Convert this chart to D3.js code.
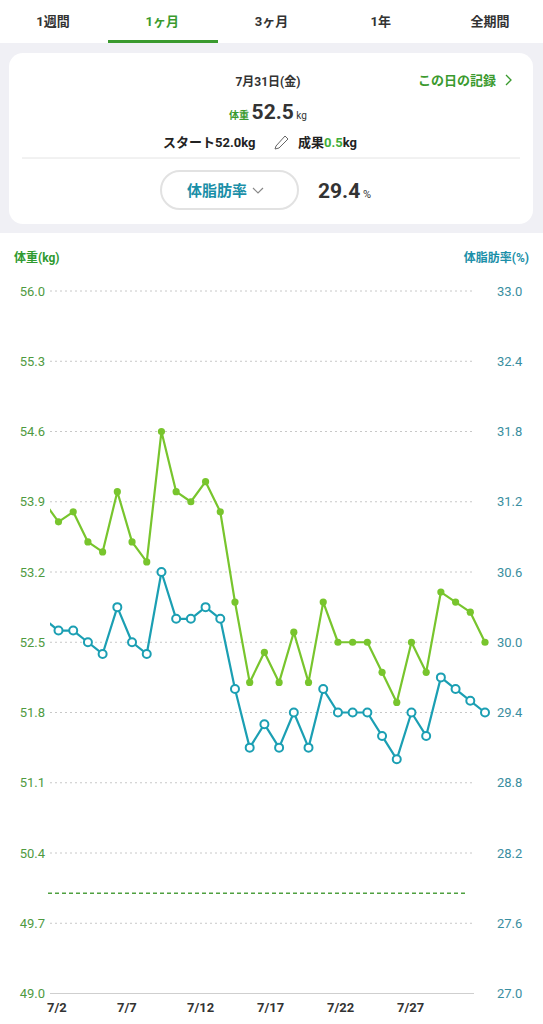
<!DOCTYPE html>
<html>
<head>
<meta charset="utf-8">
<script src="https://cdn.jsdelivr.net/npm/d3@7"></script>
<style>
  body { margin: 0; background: #fff; font-family: Roboto, "Noto Sans CJK JP", sans-serif; }
  svg { display: block; }
</style>
</head>
<body>
<svg id="chart" width="543" height="1024"></svg>
<script>
// values, July 1..31
const days = d3.range(1, 32)
const weight = [53.9, 53.7, 53.8, 53.5, 53.4, 54.0, 53.5, 53.3, 54.6, 54.0, 53.9, 54.1, 53.8, 52.9, 52.1, 52.4,
                52.1, 52.6, 52.1, 52.9, 52.5, 52.5, 52.5, 52.2, 51.9, 52.5, 52.2, 53.0, 52.9, 52.8, 52.5]
const bodyFat = [30.2, 30.1, 30.1, 30.0, 29.9, 30.3, 30.0, 29.9, 30.6, 30.2, 30.2, 30.3, 30.2, 29.6, 29.1, 29.3,
                 29.1, 29.4, 29.1, 29.6, 29.4, 29.4, 29.4, 29.2, 29.0, 29.4, 29.2, 29.7, 29.6, 29.5, 29.4]
const weightTicks = [56.0, 55.3, 54.6, 53.9, 53.2, 52.5, 51.8, 51.1, 50.4, 49.7, 49.0]
const fatTicks = [33.0, 32.4, 31.8, 31.2, 30.6, 30.0, 29.4, 28.8, 28.2, 27.6, 27.0]
const dayTicks = [2, 7, 12, 17, 22, 27]
const goalWeight = 50.0
const tabs = ['1週間', '1ヶ月', '3ヶ月', '1年', '全期間']

const svg = d3.select('#chart')
const green = '#78c52d', teal = '#1b9fb3'

// ---- top tabs
const tabX = d3.scalePoint().domain(tabs).range([53, 490])
svg.selectAll('.tab').data(tabs).join('text')
    .attr('x', d => tabX(d)).attr('y', 26)
    .attr('text-anchor', 'middle')
    .attr('font-size', 13).attr('font-weight', 'bold')
    .attr('fill', d => d == '1ヶ月' ? '#3a9a2e' : '#333')
    .text(d => d)
svg.append('rect').attr('x', 108).attr('y', 40).attr('width', 110).attr('height', 3).attr('fill', '#3a9a2e')

// ---- summary card
svg.append('rect').attr('x', 0).attr('y', 43).attr('width', 543).attr('height', 190).attr('fill', '#f0f0f5')
svg.append('rect').attr('x', 9).attr('y', 53).attr('width', 524).attr('height', 171).attr('rx', 14).attr('fill', '#fff')

svg.append('text').attr('x', 268).attr('y', 86).attr('text-anchor', 'middle')
    .attr('font-size', 12).attr('font-weight', 'bold').attr('fill', '#333').text('7月31日(金)')
svg.append('text').attr('x', 496).attr('y', 85).attr('text-anchor', 'end')
    .attr('font-size', 13).attr('font-weight', 'bold').attr('fill', '#3a9a2e').text('この日の記録')
svg.append('path').attr('d', 'M506,75 L511,80 L506,85').attr('fill', 'none')
    .attr('stroke', '#3a9a2e').attr('stroke-width', 1.3)

const wt = svg.append('text').attr('x', 268).attr('y', 119).attr('text-anchor', 'middle').attr('fill', '#333')
wt.append('tspan').attr('font-size', 10).attr('font-weight', 'bold').attr('fill', '#3a9a2e').text('体重 ')
wt.append('tspan').attr('font-size', 21).attr('font-weight', 'bold').text(weight[30].toFixed(1))
wt.append('tspan').attr('font-size', 10).text(' kg')

const st = svg.append('text').attr('y', 147).attr('font-size', 13).attr('font-weight', 'bold').attr('fill', '#222')
st.append('tspan').attr('x', 163).text('スタート52.0kg')
svg.append('path').attr('d', 'M276,146 L285,136 L288,139 L279,148 L275,149 Z')
    .attr('fill', 'none').attr('stroke', '#666').attr('stroke-width', 1)
const res = svg.append('text').attr('x', 298).attr('y', 147).attr('font-size', 13).attr('font-weight', 'bold').attr('fill', '#222')
res.append('tspan').text('成果')
res.append('tspan').attr('fill', '#3fae3a').text('0.5')
res.append('tspan').text('kg')

svg.append('line').attr('x1', 22).attr('x2', 520).attr('y1', 158).attr('y2', 158).attr('stroke', '#e4e4e4')
svg.append('rect').attr('x', 161).attr('y', 171).attr('width', 137).attr('height', 38).attr('rx', 19)
    .attr('fill', '#fff').attr('stroke', '#e2e2e2').attr('stroke-width', 2)
svg.append('text').attr('x', 187).attr('y', 196).attr('font-size', 15).attr('font-weight', 'bold')
    .attr('fill', '#1b8fa8').text('体脂肪率')
svg.append('path').attr('d', 'M253,188 L258,193 L263,188').attr('fill', 'none').attr('stroke', '#888').attr('stroke-width', 1.2)
const bf = svg.append('text').attr('x', 318).attr('y', 198).attr('fill', '#333')
bf.append('tspan').attr('font-size', 21).attr('font-weight', 'bold').text(bodyFat[30].toFixed(1))
bf.append('tspan').attr('font-size', 11).text(' %')

// ---- chart
const yW = d3.scaleLinear().domain([49.0, 56.0]).range([993.5, 291])
const yF = d3.scaleLinear().domain([27.0, 33.0]).range([993.5, 291])
const x = d3.scaleLinear().domain([2, 31]).range([58.5, 485])
const xLabel = d3.scaleLinear().domain([2, 27]).range([47, 397])

svg.append('text').attr('x', 14).attr('y', 262).attr('font-size', 12).attr('font-weight', 'bold')
    .attr('fill', '#2f9a2f').text('体重(kg)')
svg.append('text').attr('x', 529).attr('y', 262).attr('text-anchor', 'end').attr('font-size', 12)
    .attr('font-weight', 'bold').attr('fill', '#1b8fa8').text('体脂肪率(%)')

const grid = svg.append('g')
grid.selectAll('line').data(weightTicks).join('line')
    .attr('x1', 50).attr('x2', 474)
    .attr('y1', d => yW(d)).attr('y2', d => yW(d))
    .attr('stroke', d => d == 49.0 ? '#cfcfcf' : '#c8c8c8')
    .attr('stroke-dasharray', d => d == 49.0 ? null : '2,3')
    .attr('stroke-width', 1)

svg.append('g').selectAll('text').data(weightTicks).join('text')
    .attr('x', 45).attr('y', d => yW(d) + 4.5).attr('text-anchor', 'end')
    .attr('font-size', 13).attr('fill', '#4f9a3f').text(d => d.toFixed(1))
svg.append('g').selectAll('text').data(fatTicks).join('text')
    .attr('x', 497).attr('y', d => yF(d) + 4.5)
    .attr('font-size', 13).attr('fill', '#3a8ea0').text(d => d.toFixed(1))

svg.append('g').selectAll('text').data(dayTicks).join('text')
    .attr('x', d => xLabel(d)).attr('y', 1012)
    .attr('font-size', 13).attr('font-weight', 'bold').attr('fill', '#333').text(d => '7/' + d)

// goal line
svg.append('line').attr('x1', 48).attr('x2', 466).attr('y1', yW(goalWeight)).attr('y2', yW(goalWeight))
    .attr('stroke', '#4fa040').attr('stroke-width', 1.5).attr('stroke-dasharray', '4,3')

const plot = svg.append('g').attr('clip-path', 'url(#clip)')
svg.append('clipPath').attr('id', 'clip').append('rect').attr('x', 50).attr('y', 240).attr('width', 493).attr('height', 780)

const fatLine = d3.line().x((d, i) => x(days[i])).y(d => yF(d))
const wLine = d3.line().x((d, i) => x(days[i])).y(d => yW(d))

plot.append('path').datum(bodyFat).attr('d', fatLine).attr('fill', 'none')
    .attr('stroke', teal).attr('stroke-width', 2.2).attr('stroke-linejoin', 'round')
plot.append('path').datum(weight).attr('d', wLine).attr('fill', 'none')
    .attr('stroke', green).attr('stroke-width', 2.2).attr('stroke-linejoin', 'round')

plot.selectAll('.fdot').data(bodyFat).join('circle')
    .attr('cx', (d, i) => x(days[i])).attr('cy', d => yF(d)).attr('r', 4)
    .attr('fill', '#fff').attr('stroke', teal).attr('stroke-width', 2)
plot.selectAll('.wdot').data(weight).join('circle')
    .attr('cx', (d, i) => x(days[i])).attr('cy', d => yW(d)).attr('r', 3.6)
    .attr('fill', green)
</script>
</body>
</html>
